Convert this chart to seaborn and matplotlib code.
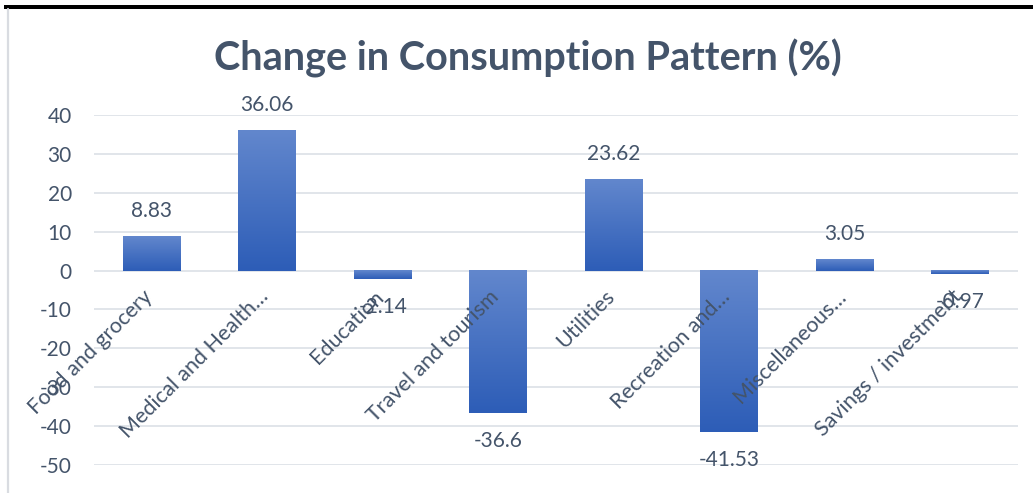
import numpy as np
import pandas as pd
import matplotlib
matplotlib.use("Agg")
import matplotlib.pyplot as plt
import seaborn as sns
from matplotlib.colors import LinearSegmentedColormap
from matplotlib.patches import Rectangle
from matplotlib.lines import Line2D

categories = ["Food and grocery", "Medical and Health\u2026", "Education", "Travel and tourism",
              "Utilities", "Recreation and\u2026", "Miscellaneous\u2026", "Savings / investment"]
values = [8.83, 36.06, -2.14, -36.6, 23.62, -41.53, 3.05, -0.97]
yticks = [-50, -40, -30, -20, -10, 0, 10, 20, 30, 40]

TEXT = "#44546A"
GRID = "#DCE0E6"

sns.set_theme(style="white")
plt.rcParams["font.family"] = ["Lato", "DejaVu Sans"]

W, H = 1033, 493
fig = plt.figure(figsize=(W / 100, H / 100), dpi=100)
ax = fig.add_axes([94 / W, 28 / H, 924 / W, 350 / H])

df = pd.DataFrame({"category": categories, "value": values})
sns.barplot(data=df, x="category", y="value", ax=ax, width=0.5,
            color="#4472C4", saturation=1, zorder=2)

# vertical gradient fill for each bar
cmap = LinearSegmentedColormap.from_list("bar", ["#6287CD", "#2D5DB7"])
grad = np.linspace(0, 1, 256).reshape(-1, 1)
for p in list(ax.patches):
    x0, w = p.get_x(), p.get_width()
    y0, h = p.get_y(), p.get_height()
    lo, hi = min(y0, y0 + h), max(y0, y0 + h)
    ax.imshow(grad, cmap=cmap, extent=[x0, x0 + w, lo, hi], aspect="auto",
              origin="upper", zorder=2.5, interpolation="bilinear")
    p.set_visible(False)

ax.set_xlim(-0.5, len(categories) - 0.5)
ax.set_ylim(-50, 40)
ax.set_yticks(yticks)
ax.set_yticklabels([str(t) for t in yticks])
for t in yticks:
    ax.axhline(t, color=GRID, lw=1.2, zorder=1)
for s in ax.spines.values():
    s.set_visible(False)
ax.set_xticks([])
ax.set_xlabel("")
ax.set_ylabel("")
ax.tick_params(axis="y", length=0, pad=16, labelsize=15, labelcolor=TEXT)

# value labels
for i, v in enumerate(values):
    ax.annotate(f"{v:g}", (i, v), xytext=(0, 25 if v >= 0 else -28),
                textcoords="offset pixels", ha="center", va="center",
                fontsize=15, color=TEXT, zorder=4, annotation_clip=False)

# rotated category labels next to the zero line
for i, c in enumerate(categories):
    ax.annotate(c, (i, 0), xytext=(5, -16), textcoords="offset pixels",
                rotation=45, ha="right", va="top", fontsize=15.5, color=TEXT,
                zorder=5, annotation_clip=False)

fig.text(528 / W, 1 - 58 / H, "Change in Consumption Pattern (%)", ha="center",
         va="center", fontsize=28.5, fontweight="bold", color=TEXT)

# frame decorations
fig.add_artist(Rectangle((4 / W, 1 - 9 / H), 1 - 4 / W, 4 / H,
                         transform=fig.transFigure, color="black", lw=0))
fig.add_artist(Line2D([7.5 / W, 7.5 / W], [0, 1 - 9 / H],
                      transform=fig.transFigure, color="#D9DCE1", lw=1.6))

fig.savefig("out.png", dpi=100)
